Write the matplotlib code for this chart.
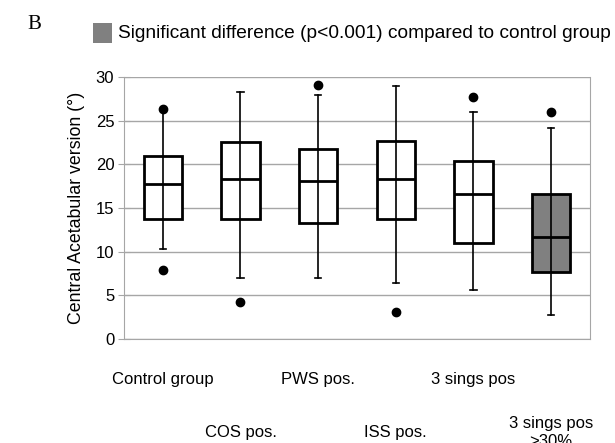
import matplotlib
matplotlib.use("Agg")
import matplotlib.pyplot as plt
from matplotlib.patches import Rectangle

plt.rcParams['font.family'] = ['Liberation Sans', 'DejaVu Sans']

# Data
groups = ["Control group", "COS pos.", "PWS pos.", "ISS pos.", "3 sings pos", "3 sings pos\n>30%"]
q1 = [13.7, 13.7, 13.25, 13.7, 10.95, 7.7]
med = [17.8, 18.3, 18.1, 18.3, 16.65, 11.7]
q3 = [21.0, 22.6, 21.8, 22.7, 20.4, 16.65]
wlo = [10.3, 6.95, 6.95, 6.45, 5.6, 2.8]
whi = [26.3, 28.3, 27.9, 29.0, 26.0, 24.2]
outliers = [[26.3, 7.9], [4.2], [29.1], [3.05], [27.7], [26.0]]
significant = [False, False, False, False, False, True]

stats = []
for i in range(len(groups)):
    stats.append(dict(label=groups[i], q1=q1[i], med=med[i], q3=q3[i],
                      whislo=wlo[i], whishi=whi[i], fliers=outliers[i]))

fig = plt.figure(figsize=(6.15, 4.43), dpi=100)
ax = fig.add_axes([0.2016, 0.2348, 0.7577, 0.5914])

positions = [i + 0.5 for i in range(len(groups))]
bp = ax.bxp(stats, positions=positions, widths=0.49, patch_artist=True,
            boxprops=dict(linewidth=2, edgecolor='black'),
            medianprops=dict(color='black', linewidth=2),
            whiskerprops=dict(color='black', linewidth=1.2),
            capprops=dict(color='black', linewidth=1.2),
            flierprops=dict(marker='o', markerfacecolor='black', markeredgecolor='black', markersize=6))
for i, box in enumerate(bp['boxes']):
    box.set_facecolor('#808080' if significant[i] else 'white')
    box.set_zorder(2)
# whisker line runs through the box
for i, p in enumerate(positions):
    ax.plot([p, p], [q1[i], q3[i]], color='black', linewidth=1.2, zorder=3)
for cap in bp['caps']:
    x = cap.get_xdata()
    c = (x[0] + x[1]) / 2
    cap.set_xdata([c - 0.04, c + 0.04])

ax.set_xlim(0, 6)
ax.set_ylim(0, 30)
ax.set_yticks(range(0, 31, 5))
ax.yaxis.grid(True, color='#a6a6a6', linewidth=1)
ax.set_axisbelow(True)
for s in ['left', 'bottom', 'right']:
    ax.spines[s].set_color('#a6a6a6')
ax.spines['top'].set_visible(False)
ax.tick_params(axis='y', direction='inout', length=8, color='#a6a6a6', labelsize=12, pad=3)
ax.tick_params(axis='x', length=0, labelsize=12)
ax.set_xticks(positions)
ax.set_xticklabels([])
for i, p in enumerate(positions):
    if i % 2 == 0:
        ax.text(p, -4.6, groups[i], ha='center', va='center', fontsize=12)
    else:
        ax.text(p, -10.7, groups[i], ha='center', va='center', fontsize=12, linespacing=1.3)
ax.set_ylabel("Central Acetabular version (°)", fontsize=12.8, labelpad=8)

fig.text(0.045, 0.945, "B", fontsize=15, family='Liberation Serif', ha='left', va='center')
fig.patches.append(Rectangle((0.151, 0.903), 0.031, 0.045, transform=fig.transFigure,
                             facecolor='#808080', edgecolor='none'))
fig.text(0.192, 0.925, "Significant difference (p<0.001) compared to control group",
         fontsize=13.8, ha='left', va='center')

fig.savefig("out.png", dpi=100)
